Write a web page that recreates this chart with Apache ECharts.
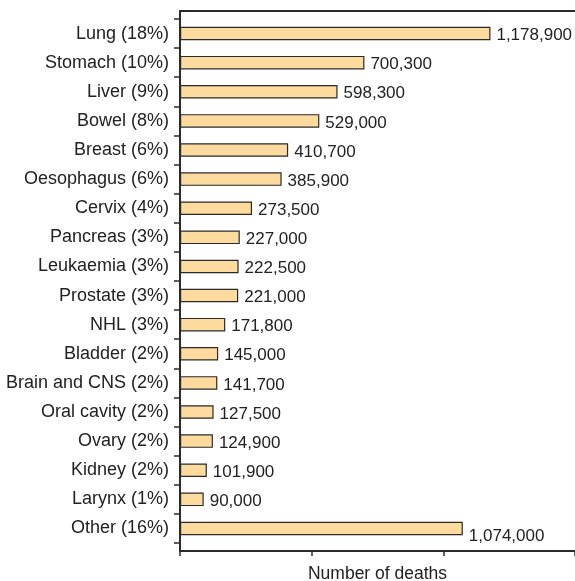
<!DOCTYPE html>
<html>
<head>
<meta charset="utf-8">
<script src="https://cdn.jsdelivr.net/npm/echarts@6/dist/echarts.min.js"></script>
<style>
html,body{margin:0;padding:0;background:#fff;}
#chart{width:575px;height:581px;}
</style>
</head>
<body>
<div id="chart"></div>
<script>
const categories = ["Lung (18%)","Stomach (10%)","Liver (9%)","Bowel (8%)","Breast (6%)","Oesophagus (6%)","Cervix (4%)","Pancreas (3%)","Leukaemia (3%)","Prostate (3%)","NHL (3%)","Bladder (2%)","Brain and CNS (2%)","Oral cavity (2%)","Ovary (2%)","Kidney (2%)","Larynx (1%)","Other (16%)"];
const deaths = [1178900,700300,598300,529000,410700,385900,273500,227000,222500,221000,171800,145000,141700,127500,124900,101900,90000,1074000];
const axisTitle = "Number of deaths";
const xMax = 1500000;
const xStep = 500000;

const FONT = "'Liberation Sans', Arial, Helvetica, sans-serif";
const TXT = '#222';
const LINE = '#2a2a2a';

const fmt = v => v.toLocaleString('en-US');

const barData = deaths.map((v, i) => {
  const d = { value: v };
  if (i === deaths.length - 1) d.label = { offset: [0, 8] };
  return d;
});

const chart = echarts.init(document.getElementById('chart'), null, { renderer: 'canvas' });
chart.setOption({
  animation: false,
  backgroundColor: '#fff',
  textStyle: { fontFamily: FONT },
  grid: [
    { left: 180, right: 0, top: 19, height: 524, outerBoundsMode: 'none', containLabel: false },
    { left: 180, right: 0, top: 11, height: 540, outerBoundsMode: 'none', containLabel: false }
  ],
  xAxis: [
    { gridIndex: 0, type: 'value', min: 0, max: xMax, interval: xStep, show: false },
    { gridIndex: 1, type: 'value', position: 'bottom', min: 0, max: xMax, interval: xStep,
      axisLine: { show: true, onZero: false, lineStyle: { color: LINE, width: 2 } },
      axisTick: { show: true, length: 5, lineStyle: { color: LINE, width: 1.5 } },
      axisLabel: { show: false }, splitLine: { show: false },
      name: axisTitle, nameLocation: 'middle', nameGap: 14,
      nameTextStyle: { fontSize: 17.5, color: TXT, fontFamily: FONT } },
    { gridIndex: 1, type: 'value', position: 'top', min: 0, max: xMax,
      axisLine: { show: true, onZero: false, lineStyle: { color: LINE, width: 2 } },
      axisTick: { show: false }, axisLabel: { show: false }, splitLine: { show: false } }
  ],
  yAxis: [
    { gridIndex: 0, type: 'category', data: categories, inverse: true,
      axisLine: { show: false },
      axisTick: { show: true, length: 6, lineStyle: { color: LINE, width: 1.5 } },
      axisLabel: { margin: 11, fontSize: 18, color: TXT, fontFamily: FONT },
      splitLine: { show: false } },
    { gridIndex: 1, type: 'value', min: 0, max: 1,
      axisLine: { show: true, onZero: false, lineStyle: { color: LINE, width: 2 } },
      axisTick: { show: false }, axisLabel: { show: false }, splitLine: { show: false } }
  ],
  series: [{
    type: 'bar',
    xAxisIndex: 0, yAxisIndex: 0,
    data: barData,
    barWidth: 13.5,
    itemStyle: { color: '#FDDA9E', borderColor: '#2a2a2a', borderWidth: 1.2 },
    label: {
      show: true, position: 'right', distance: 6, offset: [0, 2],
      fontSize: 17, color: TXT, fontFamily: FONT,
      formatter: p => fmt(p.value)
    }
  }]
});
</script>
</body>
</html>
